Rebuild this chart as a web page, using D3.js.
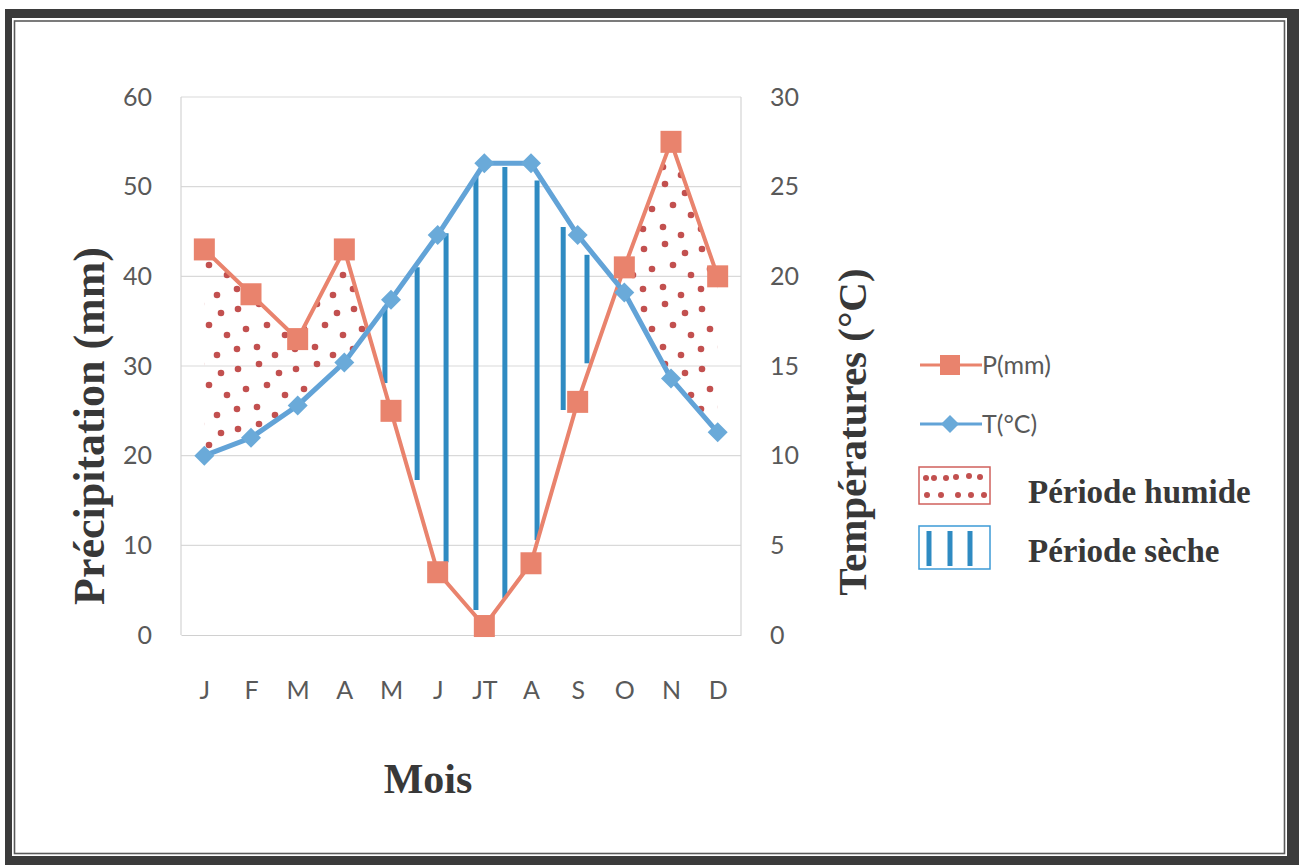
<!DOCTYPE html>
<html>
<head>
<meta charset="utf-8">
<script src="https://cdn.jsdelivr.net/npm/d3@7/dist/d3.min.js"></script>
<style>
  html, body { margin: 0; padding: 0; background: #fff; }
  svg { display: block; }
</style>
</head>
<body>
<svg id="chart" width="1301" height="865"></svg>
<script>
// Monthly climate data: precipitation (mm) and mean temperature (°C)
const months = ["J", "F", "M", "A", "M", "J", "JT", "A", "S", "O", "N", "D"];
const precip = [43, 38, 33, 43, 25, 7, 1, 8, 26, 41, 55, 40];
const temp = [10, 11, 12.8, 15.2, 18.7, 22.3, 26.3, 26.3, 22.3, 19.1, 14.3, 11.3];

// Axis ticks
const precipTicks = [0, 10, 20, 30, 40, 50, 60];
const tempTicks = [0, 5, 10, 15, 20, 25, 30];

// Hand-drawn hatching of the dry period: month position, top and bottom (mm)
const dryPos = [3.87, 4.56, 5.18, 5.82, 6.44, 7.13, 7.69, 8.20];
const dryTop = [36.6, 41.0, 44.8, 51.1, 52.2, 50.7, 45.5, 42.4];
const dryBottom = [28.1, 17.3, 8.1, 2.8, 4.1, 10.6, 25.1, 30.3];

const legendItems = ["P(mm)", "T(°C)", "Période humide", "Période sèche"];

const colP = "#e9836d", colPMark = "#e9836d";
const colT = "#62a3d7", colTMark = "#6aaad9";
const colDry = "#2f8bc2", colDot = "#c2504f";
const tickFont = "Lato, 'Open Sans', sans-serif";
const titleFont = "'Liberation Serif', 'DejaVu Serif', serif";

const svg = d3.select("#chart");

// Double frame around the figure
svg.append("rect").attr("x", 5).attr("y", 9).attr("width", 1294).attr("height", 860).attr("fill", "#3b3b3b");
svg.append("rect").attr("x", 12).attr("y", 18).attr("width", 1275).attr("height", 838).attr("fill", "#fff");
svg.append("rect").attr("x", 14.5).attr("y", 21).attr("width", 1270).attr("height", 832.5)
  .attr("fill", "none").attr("stroke", "#5a5a5a").attr("stroke-width", 1.6);

const plotL = 181, plotR = 741, plotT = 97, plotB = 635;

const x = d3.scaleLinear().domain([-0.5, 11.5]).range([plotL, plotR]);
const yP = d3.scaleLinear().domain([0, 60]).range([plotB, plotT]);
const yT = d3.scaleLinear().domain([0, 30]).range([plotB, plotT]);

const defs = svg.append("defs");

// Dot texture for the humid period
const dotPat = defs.append("pattern").attr("id", "humid").attr("patternUnits", "userSpaceOnUse")
  .attr("width", 58).attr("height", 60);
[[6, 9], [27, 4], [47, 13], [14, 29], [35, 25], [53, 35], [5, 49], [25, 47], [43, 55]]
  .forEach(([cx, cy]) => dotPat.append("circle").attr("cx", cx).attr("cy", cy).attr("r", 3.3).attr("fill", colDot));

// Clip: everything above the temperature curve
defs.append("clipPath").attr("id", "aboveT").append("path")
  .attr("d", d3.area().x((d, i) => x(i)).y0(plotT - 40).y1(d => yT(d))(temp));

// Gridlines and plot frame
const grid = svg.append("g");
grid.selectAll("line").data(precipTicks.slice(1)).join("line")
  .attr("x1", plotL).attr("x2", plotR).attr("y1", d => yP(d)).attr("y2", d => yP(d))
  .attr("stroke", "#d9d9d9").attr("stroke-width", 1.2);
grid.append("line").attr("x1", plotL).attr("x2", plotL).attr("y1", plotT).attr("y2", plotB)
  .attr("stroke", "#d4d4d4").attr("stroke-width", 1.2);
grid.append("line").attr("x1", plotR).attr("x2", plotR).attr("y1", plotT).attr("y2", plotB)
  .attr("stroke", "#d4d4d4").attr("stroke-width", 1.2);

// Humid period: area under the precipitation curve, above the temperature curve
svg.append("path")
  .attr("d", d3.area().x((d, i) => x(i)).y0(plotB).y1(d => yP(d))(precip))
  .attr("fill", "url(#humid)")
  .attr("clip-path", "url(#aboveT)");

// Dry period hatching
svg.append("g").selectAll("line").data(dryPos).join("line")
  .attr("x1", d => x(d)).attr("x2", d => x(d))
  .attr("y1", (d, i) => yP(dryTop[i])).attr("y2", (d, i) => yP(dryBottom[i]))
  .attr("stroke", colDry).attr("stroke-width", 5);

// Axes
const axLeft = svg.append("g").attr("transform", `translate(${plotL},0)`)
  .call(d3.axisLeft(yP).tickValues(precipTicks).tickSize(0).tickPadding(29));
const axRight = svg.append("g").attr("transform", `translate(${plotR},0)`)
  .call(d3.axisRight(yT).tickValues(tempTicks).tickSize(0).tickPadding(29));
const axBottom = svg.append("g").attr("transform", `translate(0,${plotB})`)
  .call(d3.axisBottom(x).tickValues(d3.range(12)).tickFormat(i => months[i]).tickSize(0).tickPadding(46));
[axLeft, axRight, axBottom].forEach(a => {
  a.select(".domain").attr("stroke", "#d0d0d0").attr("stroke-width", 1.2);
  a.selectAll("text").attr("font-family", tickFont).attr("font-size", 25).attr("fill", "#595959");
});
axLeft.select(".domain").remove();
axRight.select(".domain").remove();

// Precipitation line
svg.append("path").datum(precip)
  .attr("d", d3.line().x((d, i) => x(i)).y(d => yP(d)))
  .attr("fill", "none").attr("stroke", colP).attr("stroke-width", 4);

// Temperature line
svg.append("path").datum(temp)
  .attr("d", d3.line().x((d, i) => x(i)).y(d => yT(d)))
  .attr("fill", "none").attr("stroke", colT).attr("stroke-width", 5);

// Markers
svg.append("g").selectAll("rect").data(precip).join("rect")
  .attr("x", (d, i) => x(i) - 10.5).attr("y", d => yP(d) - 11)
  .attr("width", 21).attr("height", 22).attr("fill", colPMark);

svg.append("g").selectAll("path").data(temp).join("path")
  .attr("transform", (d, i) => `translate(${x(i)},${yT(d)})`)
  .attr("d", "M0,-10 L10,0 L0,10 L-10,0 Z").attr("fill", colTMark);

// Axis titles
svg.append("text").attr("transform", "translate(104,426) rotate(-90)")
  .attr("text-anchor", "middle").attr("font-family", titleFont).attr("font-weight", "bold")
  .attr("font-size", 44).attr("fill", "#383838").text("Précipitation (mm)");
svg.append("text").attr("transform", "translate(866,432) rotate(-90)")
  .attr("text-anchor", "middle").attr("font-family", titleFont).attr("font-weight", "bold")
  .attr("font-size", 41).attr("fill", "#383838").text("Températures (°C)");
svg.append("text").attr("x", 428).attr("y", 793)
  .attr("text-anchor", "middle").attr("font-family", titleFont).attr("font-weight", "bold")
  .attr("font-size", 42).attr("fill", "#383838").text("Mois");

// Legend
const lg = svg.append("g");
lg.append("line").attr("x1", 920).attr("x2", 982).attr("y1", 365).attr("y2", 365).attr("stroke", colP).attr("stroke-width", 3);
lg.append("rect").attr("x", 940).attr("y", 355).attr("width", 20).attr("height", 20).attr("fill", colPMark);
lg.append("text").attr("x", 982).attr("y", 365).attr("dy", "0.35em").attr("font-family", tickFont)
  .attr("font-size", 25).attr("fill", "#595959").text(legendItems[0]);

lg.append("line").attr("x1", 920).attr("x2", 982).attr("y1", 424).attr("y2", 424).attr("stroke", colT).attr("stroke-width", 3);
lg.append("path").attr("transform", "translate(950,424)").attr("d", "M0,-9 L9,0 L0,9 L-9,0 Z").attr("fill", colTMark);
lg.append("text").attr("x", 982).attr("y", 424).attr("dy", "0.35em").attr("font-family", tickFont)
  .attr("font-size", 25).attr("fill", "#595959").text(legendItems[1]);

lg.append("rect").attr("x", 919).attr("y", 467).attr("width", 71).attr("height", 37)
  .attr("fill", "#fff").attr("stroke", "#d0605c").attr("stroke-width", 1.5);
[[926, 478], [934, 478], [946, 478], [956, 477], [969, 476], [980, 477],
 [927, 495], [941, 495], [958, 495], [971, 495], [984, 495]]
  .forEach(([cx, cy]) => lg.append("circle").attr("cx", cx).attr("cy", cy).attr("r", 3).attr("fill", colDot));
lg.append("text").attr("x", 1028).attr("y", 503).attr("font-family", titleFont).attr("font-weight", "bold")
  .attr("font-size", 33).attr("fill", "#383838").text(legendItems[2]);

lg.append("rect").attr("x", 919).attr("y", 526).attr("width", 71).attr("height", 43)
  .attr("fill", "#fff").attr("stroke", "#3c9ad6").attr("stroke-width", 1.5);
[929, 950, 970].forEach(lx => lg.append("line").attr("x1", lx).attr("x2", lx).attr("y1", 531).attr("y2", 566)
  .attr("stroke", colDry).attr("stroke-width", 5));
lg.append("text").attr("x", 1028).attr("y", 562).attr("font-family", titleFont).attr("font-weight", "bold")
  .attr("font-size", 33).attr("fill", "#383838").text(legendItems[3]);
</script>
</body>
</html>
